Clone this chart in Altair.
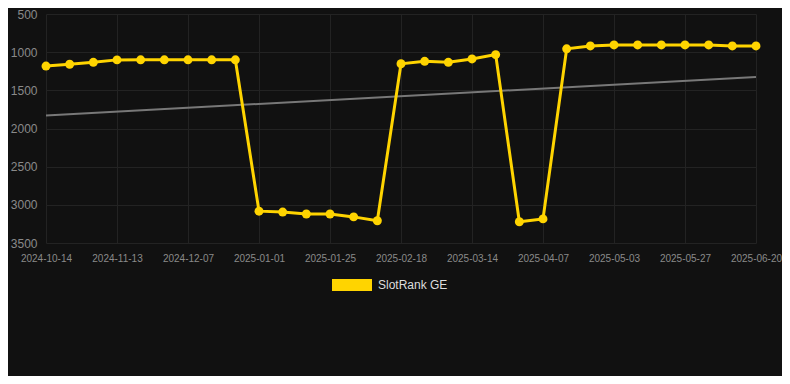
import altair as alt
import pandas as pd

# ---- data ----
dates = [
    "2024-10-14", "2024-10-24", "2024-11-03", "2024-11-13", "2024-11-21", "2024-11-29",
    "2024-12-07", "2024-12-15", "2024-12-23", "2025-01-01", "2025-01-09", "2025-01-17",
    "2025-01-25", "2025-02-02", "2025-02-10", "2025-02-18", "2025-02-26", "2025-03-06",
    "2025-03-14", "2025-03-22", "2025-03-30", "2025-04-07", "2025-04-15", "2025-04-24",
    "2025-05-03", "2025-05-11", "2025-05-19", "2025-05-27", "2025-06-04", "2025-06-12",
    "2025-06-20",
]
ranks = [
    1182, 1158, 1133, 1101, 1100, 1100, 1100, 1100, 1100, 3083, 3095, 3120,
    3120, 3158, 3209, 1152, 1120, 1133, 1089, 1032, 3222, 3184, 956, 918,
    905, 905, 905, 905, 905, 918, 918,
]
label_dates = dates[::3]
trend_dates = [dates[0], dates[-1]]
trend_values = [1830, 1325]
series_name = "SlotRank GE"
y_ticks = [500, 1000, 1500, 2000, 2500, 3000, 3500]

BG = "#111111"
GRID = "#232323"
YELLOW = "#FFD400"
FONT = "Liberation Sans"

df = pd.DataFrame({"date": dates, "rank": ranks, "series": [series_name] * len(dates)})
trend_df = pd.DataFrame({"date": trend_dates, "rank": trend_values})

x_enc = alt.X(
    "date:O",
    title=None,
    sort=dates,
    scale=alt.Scale(type="point", domain=dates, range=[3, 713], padding=0),
    axis=alt.Axis(
        values=label_dates, labelAngle=0, labelFontSize=10, labelColor="#8a8a8a",
        labelFont=FONT, ticks=False, domain=False, grid=True, gridColor=GRID,
        labelPadding=10,
    ),
)
y_enc = alt.Y(
    "rank:Q",
    title=None,
    scale=alt.Scale(domain=[500, 3500], reverse=True, nice=False, zero=False),
    axis=alt.Axis(
        values=y_ticks, format="d", labelFontSize=12, labelColor="#8a8a8a", labelFont=FONT,
        ticks=False, domain=False, grid=True, gridColor=GRID, labelPadding=6,
    ),
)

trend = alt.Chart(trend_df).mark_line(color="#787878", strokeWidth=2).encode(x=x_enc, y=y_enc)
line = alt.Chart(df).mark_line(color=YELLOW, strokeWidth=3).encode(x=x_enc, y=y_enc)
points = alt.Chart(df).mark_point(filled=True, size=80, opacity=1).encode(
    x=x_enc,
    y=y_enc,
    color=alt.Color(
        "series:N",
        scale=alt.Scale(range=[YELLOW]),
        legend=alt.Legend(
            title=None, orient="none", legendX=289, legendY=251,
            symbolType="M-1,-0.3H1V0.3H-1Z", symbolSize=1600, symbolStrokeWidth=0,
            symbolOpacity=1, labelColor="#dddddd", labelFontSize=12, labelFont=FONT,
            labelOffset=6,
        ),
    ),
)

chart = (
    alt.layer(trend, line, points)
    .properties(
        width=739, height=229, background=BG,
        autosize=alt.AutoSizeParams(type="none"),
        padding={"left": 35, "top": 6, "right": 0, "bottom": 133},
    )
    .configure_view(strokeWidth=0)
)

chart.save("out.html", embed_options={"renderer": "svg", "actions": False})
